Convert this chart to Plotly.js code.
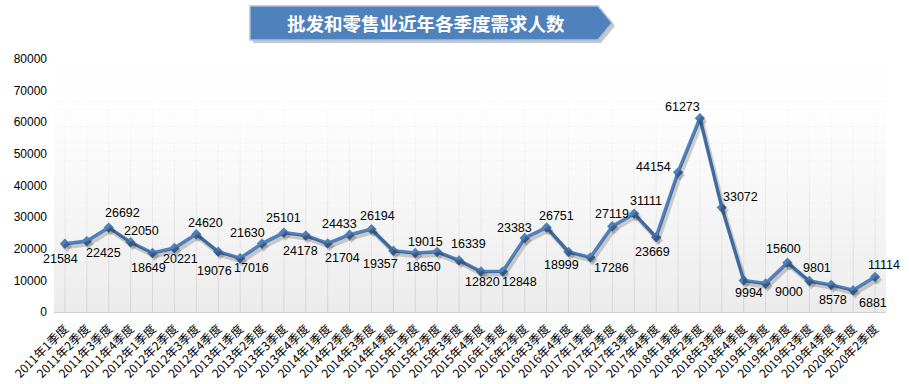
<!DOCTYPE html>
<html><head><meta charset="utf-8">
<script src="https://cdn.plot.ly/plotly-3.0.1.min.js"></script>
<style>html,body{margin:0;padding:0;background:#fff}#chart{width:909px;height:384px}</style>
</head><body><div id="chart"></div>
<script>
const categories = [
  "2011年1季度","2011年2季度","2011年3季度","2011年4季度",
  "2012年1季度","2012年2季度","2012年3季度","2012年4季度",
  "2013年1季度","2013年2季度","2013年3季度","2013年4季度",
  "2014年1季度","2014年2季度","2014年3季度","2014年4季度",
  "2015年1季度","2015年2季度","2015年3季度","2015年4季度",
  "2016年1季度","2016年2季度","2016年3季度","2016年4季度",
  "2017年1季度","2017年2季度","2017年3季度","2017年4季度",
  "2018年1季度","2018年2季度","2018年3季度","2018年4季度",
  "2019年1季度","2019年2季度","2019年3季度","2019年4季度",
  "2020年1季度","2020年2季度"
];
const demand = [
  21584,22425,26692,22050,
  18649,20221,24620,19076,
  17016,21630,25101,24178,
  21704,24433,26194,19357,
  18650,19015,16339,12820,
  12848,23383,26751,18999,
  17286,27119,31111,23669,
  44154,61273,33072,9994,
  9000,15600,9801,8578,
  6881,11114
];
const yTickValues = [0,10000,20000,30000,40000,50000,60000,70000,80000];
const yTickLabels = ["0","10000","20000","30000","40000","50000","60000","70000","80000"];
const titleText = "批发和零售业近年各季度需求人数";

// data-label offsets in pixels [dx, dy] (dy: positive = down), style only
const labelOffsets = [
  [-4,15],[17,12],[14,-15],[11,-11],
  [-4,15],[6,11],[9,-11],[-4,19],
  [11,10],[-15,-11],[0,-15],[-5,15],
  [15,15],[-10,-11],[6,-13],[-13,13],
  [8,14],[-12,-10],[9,-16],[2,11],
  [17,11],[-10,-10],[10,-11],[-7,13],
  [21,11],[0,-12],[12,-13],[-4,15],
  [-25,-5],[-17,-11],[19,-10],[5,13],
  [23,8],[-4,-14],[8,-13],[2,15],
  [20,13],[9,-12]
];

const W = 909, H = 384;
const M = {l:54, r:23, t:59, b:72};
const PW = W - M.l - M.r, PH = H - M.t - M.b;
const px = x => (x - M.l) / PW;
const py = y => (H - M.b - y) / PH;

const idx = categories.map((c,i)=>i);
const shapes = [];
// category gridlines (drawn below the fading overlay)
idx.forEach(i => shapes.push({type:'line', xref:'x', yref:'paper', x0:i, x1:i, y0:0, y1:1,
  line:{color:'#d2d2d2', width:1}, layer:'below'}));
// gradient background: white fading toward the bottom
const N = 30;
for (let i = 0; i < N; i++) {
  const t = (i + 0.5) / N;
  shapes.push({type:'rect', xref:'paper', yref:'paper', x0:0, x1:1,
    y0:i/N, y1:(i+1)/N, fillcolor:'#ffffff', opacity:Math.min(1, Math.pow(t,0.8)*1.1),
    line:{width:0}, layer:'below'});
}
// title banner (arrow)
function bannerPath(ox, oy) {
  const pts = [[250,6],[598,6],[612,23],[598,40],[250,40]];
  return 'M' + pts.map(p => px(p[0]+ox) + ',' + py(p[1]+oy)).join(' L') + ' Z';
}
shapes.push({type:'path', xref:'paper', yref:'paper', path:bannerPath(3,3),
  fillcolor:'rgba(0,0,0,0.22)', line:{width:0}, layer:'above'});
shapes.push({type:'path', xref:'paper', yref:'paper', path:bannerPath(0,0),
  fillcolor:'#4f81bd', line:{color:'#a9c1e0', width:1.5}, layer:'above'});

const annotations = demand.map((v, i) => ({
  x: i, y: v, xref:'x', yref:'y', text: String(v), showarrow:false,
  xshift: labelOffsets[i][0], yshift: -labelOffsets[i][1],
  font:{family:'Liberation Sans, Arial, sans-serif', size:12.5, color:'#000'}
}));
annotations.push({
  x: px(426), y: py(23), xref:'paper', yref:'paper', showarrow:false,
  text: titleText, xanchor:'center', yanchor:'middle',
  font:{family:'Noto Sans CJK SC', size:18.5, color:'#ffffff', weight:'bold'}
});

const traces = [
  {x: idx, y: demand, type:'scatter', mode:'lines+markers', xaxis:'x2', yaxis:'y2',
   line:{color:'rgba(0,0,0,0.18)', width:4.5}, marker:{symbol:'diamond', size:8, color:'rgba(0,0,0,0.18)'},
   hoverinfo:'skip'},
  {x: idx, y: demand, type:'scatter', mode:'lines+markers',
   line:{color:'#4f81bd', width:3.5}, marker:{symbol:'diamond', size:8, color:'#4f81bd'}}
];

const pxPerCat = PW / categories.length;
const pxPerVal = 80000 / PH;
const layout = {
  width: W, height: H, margin: M,
  paper_bgcolor:'#ffffff', plot_bgcolor:'#ebebeb',
  showlegend:false,
  xaxis:{range:[-0.5, categories.length-0.5], tickmode:'array', tickvals: idx, ticktext: categories,
    tickangle:-45, showgrid:false, zeroline:false,
    showline:true, linecolor:'#d0d0d0', ticks:'', ticklabelstandoff: 4,
    tickfont:{family:'Noto Sans CJK SC', size:12, color:'#000'}},
  yaxis:{range:[0,80000], tickmode:'array', tickvals: yTickValues, ticktext: yTickLabels,
    showgrid:false, zeroline:false, showline:false, ticks:'', ticklabelstandoff: 6,
    tickfont:{family:'Liberation Sans, Arial, sans-serif', size:12, color:'#000'}},
  xaxis2:{overlaying:'x', range:[-0.5 - 2/pxPerCat, categories.length-0.5 - 2/pxPerCat], visible:false},
  yaxis2:{overlaying:'y', range:[3*pxPerVal, 80000 + 3*pxPerVal], visible:false},
  shapes: shapes, annotations: annotations
};
Plotly.newPlot('chart', traces, layout, {displayModeBar:false, staticPlot:true});
</script></body></html>
